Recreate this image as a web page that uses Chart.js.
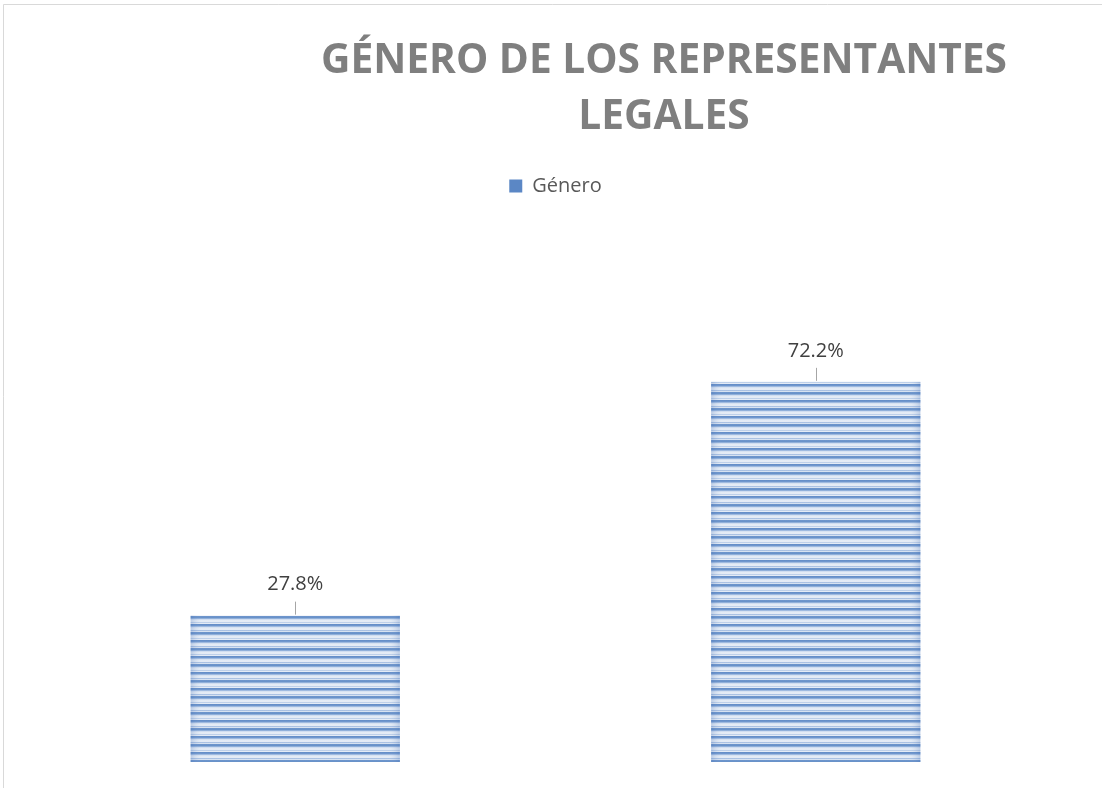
<!DOCTYPE html>
<html>
<head>
<meta charset="utf-8">
<title>Género de los representantes legales</title>
<script src="https://cdn.jsdelivr.net/npm/chart.js@4.4.1/dist/chart.umd.min.js"></script>
<style>
  html, body { margin: 0; padding: 0; background: #fff; overflow: hidden; }
  #grafico { display: block; }
</style>
</head>
<body>
<canvas id="grafico" width="1102" height="788"></canvas>
<script>
// datos del grafico
var categorias = ['Femenino', 'Masculino'];
var valores = [27.8, 72.2];
var etiquetas = ['27.8%', '72.2%'];
var nombreSerie = 'Género';
var titulo = ['GÉNERO DE LOS REPRESENTANTES', 'LEGALES'];

// franjas horizontales del relleno de las barras
function patronRayas() {
  var colores = ['#4a7bbf', '#5684c4', '#8eaedb', '#d0ddef', '#dfe8f4', '#dfe8f4', '#9cb7de', '#d0ddef',
                 '#5382c3', '#4f7fc0', '#7da2d4', '#c8d7ed', '#dfe8f4', '#dfe8f4', '#b3c8e6', '#dfe8f4'];
  var c = document.createElement('canvas');
  c.width = 8;
  c.height = colores.length;
  var cx = c.getContext('2d');
  for (var i = 0; i < colores.length; i++) {
    cx.fillStyle = colores[i];
    cx.fillRect(0, i, 8, 1);
  }
  return document.getElementById('grafico').getContext('2d').createPattern(c, 'repeat');
}

var marco = {
  id: 'marco',
  beforeDraw: function(chart) {
    var ctx = chart.ctx;
    ctx.save();
    ctx.fillStyle = '#ffffff';
    ctx.fillRect(0, 0, chart.width, chart.height);
    ctx.strokeStyle = '#d9d9d9';
    ctx.lineWidth = 1;
    ctx.beginPath();
    ctx.moveTo(3.5, chart.height);
    ctx.lineTo(3.5, 4.5);
    ctx.lineTo(chart.width, 4.5);
    ctx.stroke();
    ctx.restore();
  }
};

var tituloPlugin = {
  id: 'tituloPlugin',
  afterDraw: function(chart) {
    var ctx = chart.ctx;
    ctx.save();
    ctx.font = 'bold 42px "Open Sans"';
    ctx.fillStyle = '#7f7f7f';
    ctx.textAlign = 'center';
    ctx.textBaseline = 'alphabetic';
    var ancho = ctx.measureText(titulo[0]).width;
    var escala = 686 / ancho;
    ctx.translate(664, 0);
    ctx.scale(escala, 1);
    ctx.fillText(titulo[0], 0, 73);
    ctx.fillText(titulo[1], 0, 129);
    ctx.restore();
  }
};

// sombreado suave en los bordes de cada barra
var bordesBarra = {
  id: 'bordesBarra',
  afterDatasetsDraw: function(chart) {
    var ctx = chart.ctx;
    var meta = chart.getDatasetMeta(0);
    ctx.save();
    for (var i = 0; i < meta.data.length; i++) {
      var b = meta.data[i];
      var izq = b.x - b.width / 2;
      var der = b.x + b.width / 2;
      var alto = b.base - b.y;
      var g = ctx.createLinearGradient(izq, 0, der, 0);
      g.addColorStop(0, 'rgba(120,150,200,0.35)');
      g.addColorStop(0.05, 'rgba(255,255,255,0.15)');
      g.addColorStop(0.95, 'rgba(255,255,255,0.15)');
      g.addColorStop(1, 'rgba(120,150,200,0.35)');
      ctx.fillStyle = g;
      ctx.fillRect(izq, b.y, der - izq, alto);
    }
    ctx.restore();
  }
};

var etiquetasPlugin = {
  id: 'etiquetasPlugin',
  afterDatasetsDraw: function(chart) {
    var ctx = chart.ctx;
    var meta = chart.getDatasetMeta(0);
    ctx.save();
    for (var i = 0; i < meta.data.length; i++) {
      var barra = meta.data[i];
      var x = Math.round(barra.x) + 0.5;
      ctx.strokeStyle = '#a6a6a6';
      ctx.lineWidth = 1;
      ctx.beginPath();
      ctx.moveTo(x, barra.y - 14);
      ctx.lineTo(x, barra.y - 1);
      ctx.stroke();
      ctx.font = '20px "Open Sans"';
      ctx.fillStyle = '#404040';
      ctx.textAlign = 'center';
      ctx.textBaseline = 'middle';
      ctx.fillText(etiquetas[i], barra.x, barra.y - 31);
    }
    ctx.restore();
  }
};

var contexto = document.getElementById('grafico').getContext('2d');
var chart = new Chart(contexto, {
  type: 'bar',
  data: {
    labels: categorias,
    datasets: [{
      label: nombreSerie,
      data: valores,
      backgroundColor: patronRayas(),
      borderWidth: 0,
      categoryPercentage: 1,
      barPercentage: 0.402
    }]
  },
  options: {
    responsive: false,
    devicePixelRatio: 1,
    animation: false,
    layout: {
      padding: { top: 166, bottom: 26, left: 35, right: 26 }
    },
    scales: {
      x: { display: false },
      y: { display: false, min: 0, max: 105.6 }
    },
    plugins: {
      title: { display: false },
      tooltip: { enabled: false },
      legend: {
        position: 'top',
        labels: {
          boxWidth: 13,
          boxHeight: 13,
          padding: 10,
          color: '#595959',
          font: { family: '"Open Sans"', size: 20 },
          generateLabels: function(chart) {
            return [{ text: nombreSerie, fillStyle: '#5b87c5', strokeStyle: '#5b87c5', fontColor: '#595959', lineWidth: 0, datasetIndex: 0 }];
          }
        }
      }
    }
  },
  plugins: [marco, tituloPlugin, bordesBarra, etiquetasPlugin]
});
</script>
</body>
</html>
